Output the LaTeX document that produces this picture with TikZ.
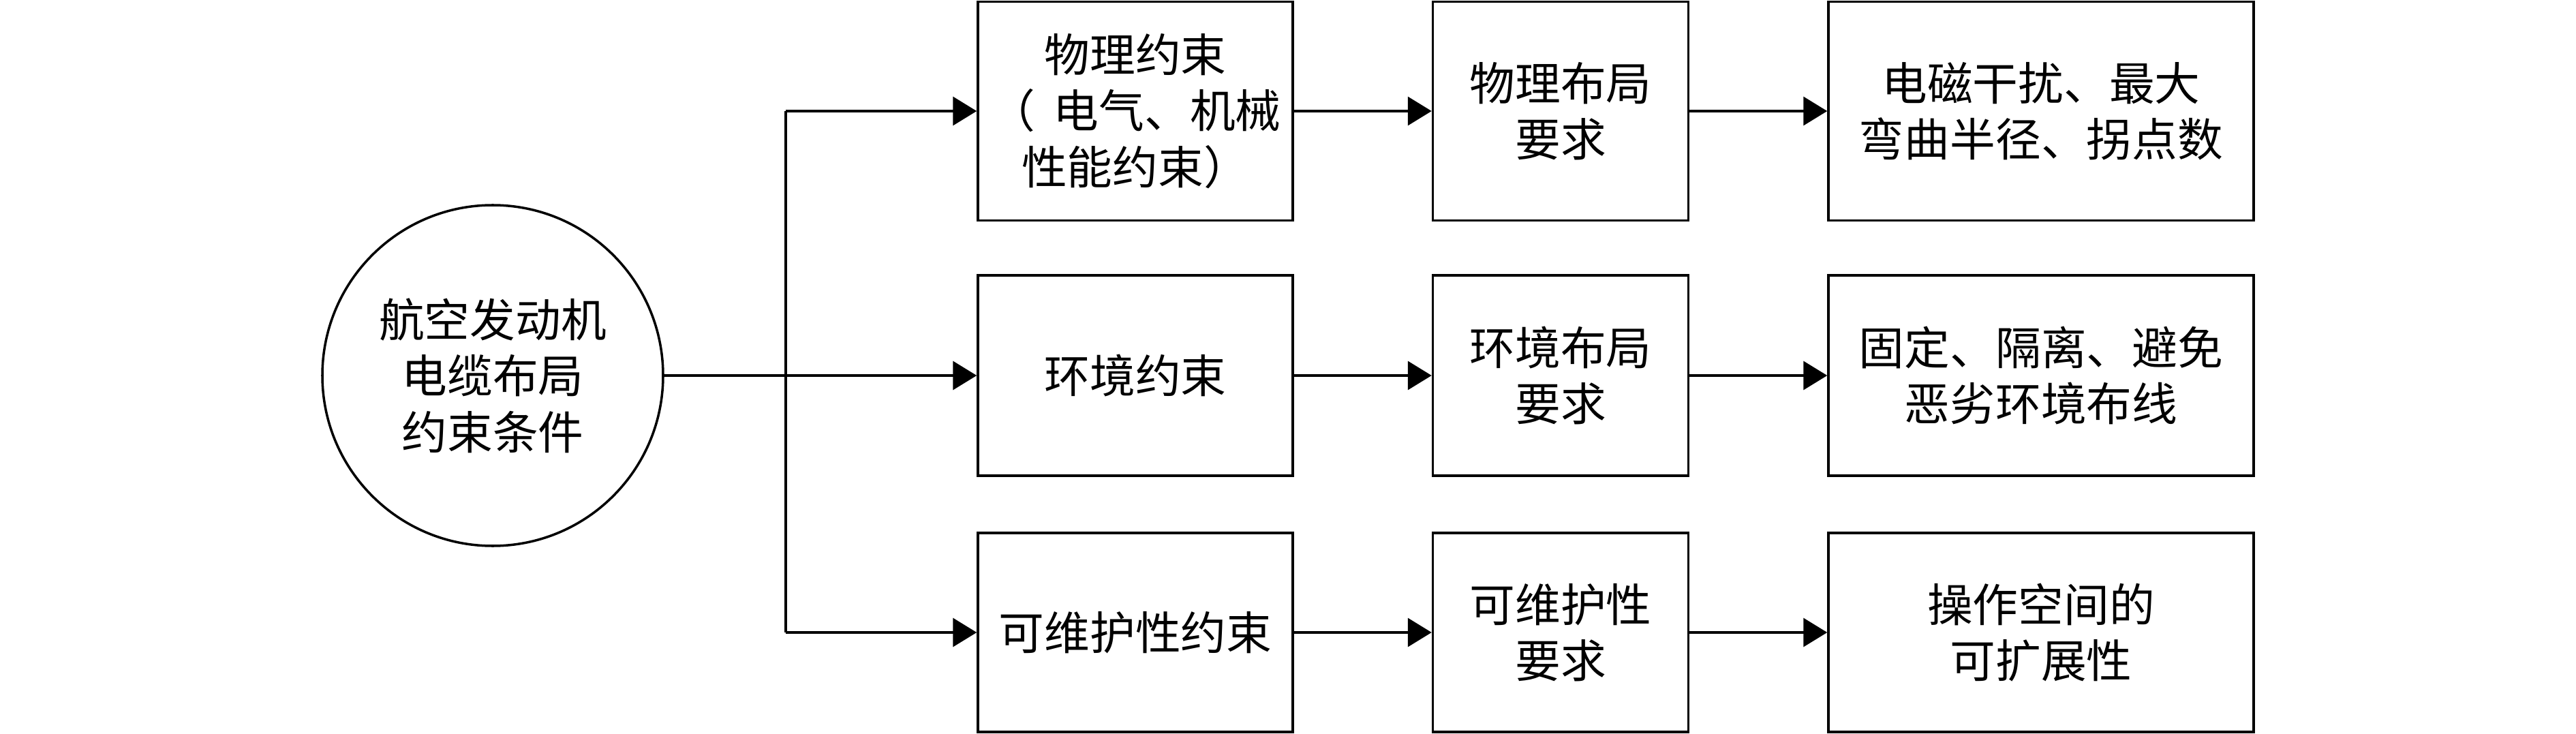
\documentclass[tikz,border=0pt]{standalone}
\usepackage{fontspec}
\setmainfont{Noto Sans CJK SC}
\usepackage{tikz}
\usetikzlibrary{arrows.meta}
\tikzset{
  maincircle/.style={circle, draw, line width=1pt, minimum size=5cm, inner sep=0pt, align=center},
  block/.style={rectangle, draw, line width=1pt, inner sep=0pt, align=center},
  colA/.style={block, minimum width=4.62cm},
  colB/.style={block, minimum width=3.75cm},
  colC/.style={block, minimum width=6.24cm},
  rowA/.style={minimum height=3.21cm},
  rowB/.style={minimum height=2.94cm},
  rowC/.style={minimum height=2.92cm},
  fwd/.style={-{Triangle[length=3.5mm, width=4.2mm]}, line width=1pt},
  link/.style={line width=1pt},
}

\begin{document}
\begin{tikzpicture}[font=\fontsize{19pt}{23.5pt}\selectfont]
  \useasboundingbox (0,0) rectangle (37.8,-10.77);

  \node[maincircle] (root) at (7.23,-5.51) {航空发动机\\电缆布局\\约束条件};

  \node[colA, rowA] (phys) at (16.66,-1.63) {物理约束\\（\hspace{0.4em}电气、机械\\性能约束）};
  \node[colA, rowB] (env) at (16.66,-5.51) {环境约束};
  \node[colA, rowC] (maint) at (16.66,-9.28) {可维护性约束};

  \node[colB, rowA] (physreq) at (22.90,-1.63) {物理布局\\要求};
  \node[colB, rowB] (envreq) at (22.90,-5.51) {环境布局\\要求};
  \node[colB, rowC] (maintreq) at (22.90,-9.28) {可维护性\\要求};

  \node[colC, rowA] (physdet) at (29.95,-1.63) {电磁干扰、最大\\弯曲半径、拐点数};
  \node[colC, rowB] (envdet) at (29.95,-5.51) {固定、隔离、避免\\恶劣环境布线};
  \node[colC, rowC] (maintdet) at (29.95,-9.28) {操作空间的\\可扩展性};

  \coordinate (bus) at (11.53,-5.51);

  \draw[link] (root.east) -- (bus);
  \draw[link] (bus |- phys.west) -- (bus |- maint.west);
  \draw[fwd] (bus |- phys.west) -- (phys.west);
  \draw[fwd] (bus) -- (env.west);
  \draw[fwd] (bus |- maint.west) -- (maint.west);

  \draw[fwd] (phys) -- (physreq);
  \draw[fwd] (env) -- (envreq);
  \draw[fwd] (maint) -- (maintreq);
  \draw[fwd] (physreq) -- (physdet);
  \draw[fwd] (envreq) -- (envdet);
  \draw[fwd] (maintreq) -- (maintdet);
\end{tikzpicture}
\end{document}
